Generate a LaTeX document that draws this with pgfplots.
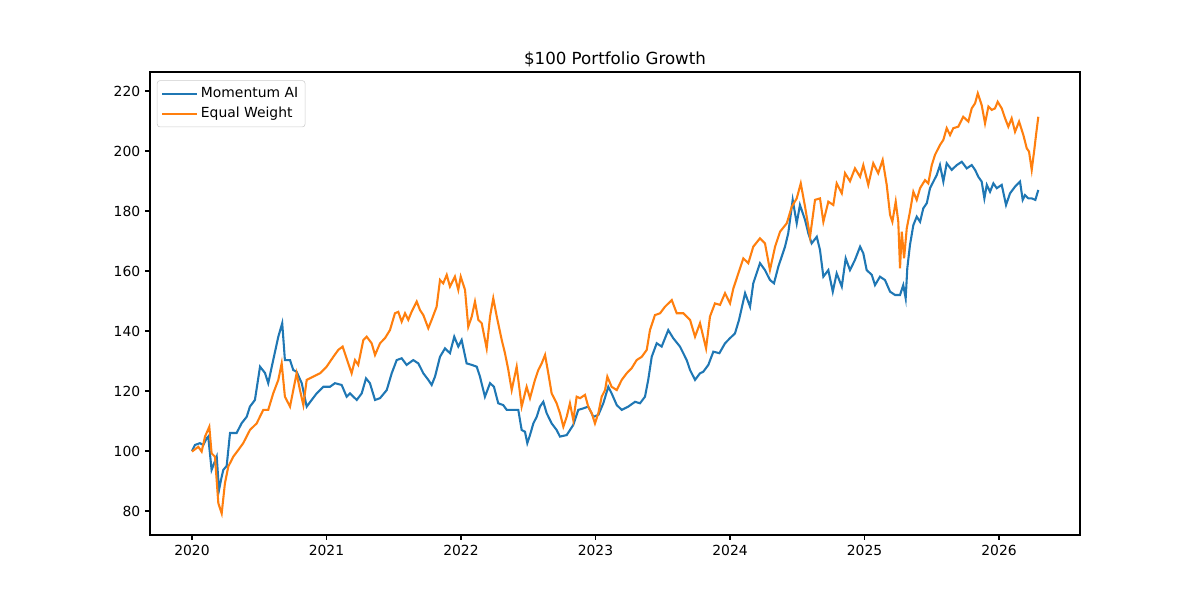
\documentclass[border=0pt]{standalone}
\usepackage{fontspec}
\setmainfont{DejaVu Sans}
\usepackage{pgfplots}
\pgfplotsset{compat=1.18}
\definecolor{cA}{HTML}{1F77B4}
\definecolor{cB}{HTML}{FF7F0E}
\begin{document}
\begin{tikzpicture}
\begin{axis}[
  scale only axis,
  width=669.6pt, height=333.36pt,
  xmin=2019.688, xmax=2026.602,
  ymin=72, ymax=226.33,
  xtick={2020,2021,2022,2023,2024,2025,2026},
  ytick={80,100,120,140,160,180,200,220},
  xticklabel style={/pgf/number format/1000 sep={}},
  /pgf/number format/assume math mode=true,
  tick label style={font=\fontsize{10}{12}\selectfont},
  tick align=outside, tick pos=left,
  major tick length=3.5pt,
  every tick/.style={black, line width=0.8pt},
  axis line style={line width=0.8pt},
  title={\$100 Portfolio Growth},
  title style={font=\fontsize{12}{14}\selectfont, yshift=-6pt},
  legend style={at={(0,1)}, anchor=north west, xshift=5pt, yshift=-6pt,
    draw=black!20, rounded corners=2pt, fill=white, font=\fontsize{10}{12}\selectfont,
    inner xsep=3pt, inner ysep=3pt, row sep=1.5pt},
  legend cell align=left,
  legend image code/.code={\draw[#1] (0pt,0pt) -- (20pt,0pt); \path (0pt,0pt) -- (25pt,0pt);},
]
\addplot[cA, line width=1.5pt] table {
2020.000 100.0
2020.022 102.0
2020.059 102.6
2020.084 102.0
2020.109 104.2
2020.121 104.8
2020.146 93.7
2020.184 98.1
2020.201 87.0
2020.219 91.0
2020.233 93.7
2020.258 95.0
2020.283 106.0
2020.332 106.0
2020.370 109.3
2020.407 111.4
2020.431 114.8
2020.468 117.0
2020.506 128.1
2020.543 126.0
2020.567 122.6
2020.604 130.3
2020.642 138.1
2020.671 142.6
2020.691 130.3
2020.729 130.3
2020.753 127.0
2020.778 126.4
2020.816 122.6
2020.853 114.8
2020.890 117.0
2020.927 119.2
2020.976 121.4
2021.026 121.4
2021.063 122.6
2021.113 122.0
2021.150 118.1
2021.175 119.2
2021.225 117.0
2021.262 119.2
2021.294 124.2
2021.323 122.6
2021.361 117.0
2021.398 117.6
2021.448 120.3
2021.485 125.9
2021.522 130.3
2021.559 130.9
2021.596 128.7
2021.645 130.3
2021.683 129.2
2021.720 125.9
2021.757 123.7
2021.782 122.0
2021.807 124.8
2021.844 131.4
2021.881 134.2
2021.918 132.6
2021.950 138.1
2021.980 134.8
2022.005 137.0
2022.042 129.2
2022.080 128.7
2022.117 128.1
2022.141 124.8
2022.178 118.1
2022.216 122.6
2022.245 121.4
2022.277 115.9
2022.314 115.3
2022.340 113.7
2022.426 113.7
2022.451 107.0
2022.476 106.4
2022.493 102.6
2022.513 105.3
2022.538 109.2
2022.563 111.4
2022.587 114.8
2022.612 116.4
2022.637 112.6
2022.674 109.2
2022.711 107.0
2022.736 104.8
2022.786 105.3
2022.835 108.7
2022.872 113.7
2022.909 114.2
2022.946 114.8
2022.984 111.4
2023.021 112.0
2023.058 115.9
2023.095 121.4
2023.120 119.2
2023.158 115.3
2023.195 113.7
2023.244 114.8
2023.294 116.4
2023.331 115.9
2023.368 118.1
2023.392 123.7
2023.418 131.4
2023.455 135.9
2023.492 134.8
2023.541 140.3
2023.578 137.6
2023.628 134.8
2023.678 130.3
2023.703 127.0
2023.740 123.7
2023.777 125.9
2023.801 126.4
2023.839 128.7
2023.876 133.1
2023.921 132.6
2023.963 135.9
2024.000 137.6
2024.037 139.2
2024.067 143.7
2024.112 152.6
2024.149 148.1
2024.173 155.9
2024.223 162.6
2024.260 160.3
2024.297 157.0
2024.327 155.9
2024.359 161.4
2024.409 168.1
2024.433 172.6
2024.466 183.7
2024.496 175.9
2024.520 182.0
2024.558 177.0
2024.582 172.6
2024.607 169.2
2024.645 171.4
2024.669 167.0
2024.694 158.1
2024.731 160.3
2024.764 153.1
2024.793 159.2
2024.831 154.8
2024.860 164.2
2024.892 160.3
2024.929 163.7
2024.967 168.1
2024.991 165.9
2025.016 160.3
2025.054 158.7
2025.078 155.3
2025.115 158.1
2025.152 157.0
2025.190 153.1
2025.227 152.0
2025.264 152.0
2025.288 155.3
2025.306 150.9
2025.318 160.9
2025.338 168.7
2025.363 175.3
2025.388 178.1
2025.413 176.4
2025.437 180.9
2025.463 182.6
2025.487 187.6
2025.512 189.8
2025.537 192.0
2025.561 195.3
2025.586 189.8
2025.611 195.9
2025.648 193.7
2025.686 195.3
2025.723 196.4
2025.760 194.2
2025.797 195.3
2025.822 193.7
2025.846 191.4
2025.871 189.8
2025.891 184.2
2025.909 188.7
2025.933 186.4
2025.958 189.2
2025.983 187.6
2026.020 188.7
2026.052 182.0
2026.082 185.9
2026.119 188.1
2026.156 189.8
2026.176 183.7
2026.193 185.3
2026.218 184.2
2026.243 184.2
2026.270 183.7
2026.292 187.0
};
\addlegendentry{Momentum AI}
\addplot[cB, line width=1.5pt] table {
2020.000 99.8
2020.047 101.4
2020.072 99.8
2020.097 104.8
2020.129 108.1
2020.146 99.2
2020.171 98.1
2020.196 82.6
2020.221 79.2
2020.245 89.2
2020.270 94.8
2020.307 98.1
2020.344 100.3
2020.381 102.6
2020.431 107.0
2020.481 109.2
2020.530 113.7
2020.567 113.7
2020.604 119.2
2020.642 123.7
2020.667 129.2
2020.691 118.1
2020.729 114.8
2020.778 125.9
2020.803 120.3
2020.828 115.3
2020.853 123.7
2020.902 124.8
2020.952 125.9
2021.001 128.1
2021.051 131.4
2021.088 133.7
2021.120 134.8
2021.162 129.2
2021.187 125.9
2021.212 130.3
2021.236 128.7
2021.274 137.0
2021.299 138.1
2021.336 135.9
2021.361 132.0
2021.398 135.9
2021.435 137.6
2021.472 140.3
2021.509 145.9
2021.534 146.4
2021.559 143.1
2021.584 145.9
2021.608 143.7
2021.633 146.4
2021.671 149.8
2021.695 147.0
2021.720 145.3
2021.757 140.9
2021.782 143.7
2021.819 148.1
2021.844 157.0
2021.868 155.9
2021.894 158.7
2021.918 154.8
2021.955 158.1
2021.980 153.7
2021.998 158.1
2022.030 153.7
2022.054 141.4
2022.080 144.8
2022.104 149.8
2022.129 143.7
2022.154 142.6
2022.191 134.2
2022.216 144.8
2022.240 150.9
2022.266 144.8
2022.303 137.0
2022.327 132.6
2022.352 127.0
2022.377 120.3
2022.414 128.1
2022.451 114.8
2022.488 121.4
2022.513 117.6
2022.550 123.7
2022.575 127.0
2022.600 129.2
2022.625 132.0
2022.649 125.9
2022.674 119.2
2022.711 115.9
2022.736 112.6
2022.761 108.1
2022.786 111.4
2022.810 115.9
2022.835 110.3
2022.860 118.1
2022.885 117.6
2022.922 118.7
2022.946 114.8
2022.972 112.6
2022.996 109.2
2023.021 112.6
2023.046 118.1
2023.071 120.3
2023.088 124.8
2023.120 121.4
2023.158 120.3
2023.195 123.7
2023.232 125.9
2023.269 127.6
2023.306 130.3
2023.344 131.4
2023.381 133.7
2023.405 140.3
2023.442 145.3
2023.480 145.9
2023.517 148.1
2023.567 150.3
2023.604 145.9
2023.653 145.9
2023.703 143.7
2023.740 138.1
2023.777 142.6
2023.822 134.2
2023.851 144.8
2023.888 149.2
2023.926 148.7
2023.963 152.6
2024.000 149.2
2024.025 154.2
2024.062 159.2
2024.099 164.2
2024.136 162.6
2024.173 168.1
2024.223 170.9
2024.260 169.2
2024.297 160.3
2024.335 168.1
2024.372 173.1
2024.422 175.9
2024.459 181.4
2024.496 184.2
2024.526 189.2
2024.558 181.4
2024.595 171.4
2024.632 183.7
2024.669 184.2
2024.694 176.4
2024.731 183.1
2024.768 182.0
2024.793 189.2
2024.831 185.9
2024.855 192.6
2024.892 189.9
2024.929 194.2
2024.967 191.4
2024.991 195.3
2025.028 188.7
2025.065 195.9
2025.102 192.6
2025.135 197.0
2025.165 188.7
2025.190 178.7
2025.207 176.4
2025.232 183.1
2025.251 176.4
2025.264 160.9
2025.277 173.1
2025.294 164.2
2025.314 174.2
2025.338 179.8
2025.363 186.4
2025.388 183.7
2025.413 187.6
2025.450 190.3
2025.474 189.2
2025.500 195.3
2025.524 198.7
2025.561 202.0
2025.586 203.7
2025.611 207.6
2025.636 205.3
2025.660 207.6
2025.697 208.1
2025.734 211.4
2025.772 209.8
2025.797 214.2
2025.822 215.9
2025.842 219.2
2025.871 215.3
2025.896 209.2
2025.921 214.8
2025.946 213.7
2025.970 214.2
2025.990 216.4
2026.020 214.2
2026.045 210.9
2026.069 208.1
2026.094 210.9
2026.119 206.4
2026.149 209.8
2026.181 205.3
2026.206 200.9
2026.223 199.8
2026.243 193.7
2026.262 200.3
2026.275 205.3
2026.292 211.4
};
\addlegendentry{Equal Weight}
\end{axis}
\useasboundingbox ([xshift=-108pt, yshift=-46.8pt]current axis.south west) rectangle ([xshift=86.4pt, yshift=51.84pt]current axis.north east);
\end{tikzpicture}
\end{document}
